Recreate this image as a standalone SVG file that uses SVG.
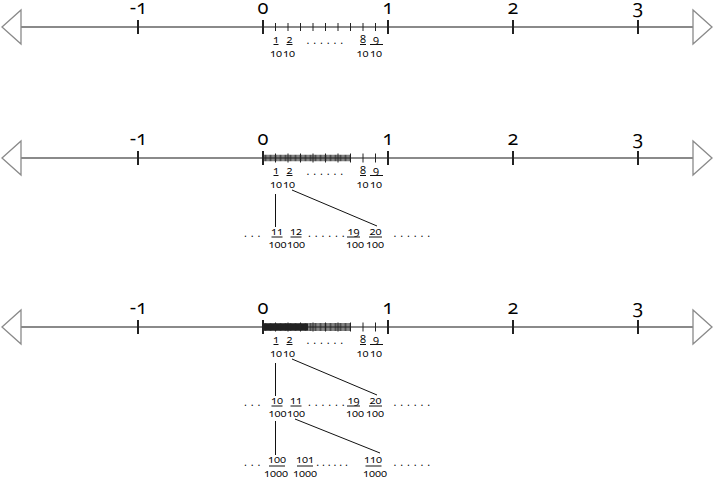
<svg xmlns="http://www.w3.org/2000/svg" width="714" height="479" viewBox="0 0 714 479">
<style>
text{font-family:"Open Sans","Noto Sans","DejaVu Sans",sans-serif;font-variant-numeric:oldstyle-nums;font-feature-settings:"onum" 1;fill:#000;text-anchor:middle}
.big{font-size:20px}
.fr{font-size:11px}
.dots{font-size:11px;letter-spacing:0.5px}
.axis{stroke:#8a8a8a;stroke-width:2;fill:none}
.arr{stroke:#8a8a8a;stroke-width:1.3;fill:#fff}
.maj{stroke:#222;stroke-width:2}
.ten{stroke:#222;stroke-width:1}
.hun{stroke:#222;stroke-width:7;stroke-dasharray:0.8 0.45}
.ul{stroke:#111;stroke-width:1}
.con{stroke:#111;stroke-width:1;fill:none}
</style>
<defs>
<g id="axisbase">
<line class="axis" x1="21" y1="0" x2="693" y2="0"/>
<polygon class="arr" points="2,0 21,-17 21,17"/>
<polygon class="arr" points="712,0 693,-17 693,17"/>
<path class="maj" d="M138 -7v14M263 -7v14M388 -7v14M513 -7v14M638 -7v14"/>
<text class="big" x="138.5" y="-13">-1</text>
<text class="big" x="263" y="-13">0</text>
<text class="big" x="388" y="-13">1</text>
<text class="big" x="513" y="-13">2</text>
<text class="big" x="638" y="-13">3</text>
</g>
<g id="tenthlabels">
<text class="fr" x="276" y="15.5">1</text>
<line class="ul" x1="273.5" y1="17.5" x2="278.5" y2="17.5"/>
<text class="fr" x="276" y="29.5">10</text>
<text class="fr" x="289.5" y="15.5">2</text>
<line class="ul" x1="286.5" y1="17.5" x2="292.5" y2="17.5"/>
<text class="fr" x="289" y="29.5">10</text>
<text class="dots" x="325" y="17">. . . . . .</text>
<text class="fr" x="363" y="15.5">8</text>
<line class="ul" x1="360" y1="17.5" x2="366" y2="17.5"/>
<text class="fr" x="362.5" y="29.5">10</text>
<text class="fr" x="376" y="15.5">9</text>
<line class="ul" x1="370" y1="17.5" x2="383" y2="17.5"/>
<text class="fr" x="376" y="29.5">10</text>
</g>
</defs>

<g id="line1" transform="translate(0,27)">
<use href="#axisbase"/>
<path class="ten" d="M275.5 -4v8M288 -4v8M300.5 -4v8M313 -4v8M325.5 -4v8M338 -4v8M350.5 -4v8M363 -4v8M375.5 -4v8"/>
<use href="#tenthlabels"/>
</g>

<g id="line2" transform="translate(0,158)">
<use href="#axisbase"/>
<line class="hun" x1="263.85" y1="0" x2="350" y2="0" style="stroke-width:6.5"/>
<path class="ten" d="M275.5 -4.5v9M288 -4.5v9M300.5 -4.5v9M313 -4.5v9M325.5 -4.5v9M338 -4.5v9M350.5 -4.5v9M363 -4.5v9M375.5 -4.5v9"/>
<path class="maj" d="M263 -7v14"/>
<use href="#tenthlabels"/>
</g>

<g id="row2a">
<text class="dots" x="252.5" y="237">. . .</text>
<text class="fr" x="277" y="234.5">11</text>
<line class="ul" x1="271.5" y1="237" x2="282.5" y2="237"/>
<text class="fr" x="277.5" y="248">100</text>
<text class="fr" x="296" y="234.5">12</text>
<line class="ul" x1="290.5" y1="237" x2="301.5" y2="237"/>
<text class="fr" x="296" y="248">100</text>
<text class="dots" x="326.5" y="237">. . . . . .</text>
<text class="fr" x="353.5" y="234.5">19</text>
<line class="ul" x1="347" y1="237" x2="360" y2="237"/>
<text class="fr" x="355" y="248">100</text>
<text class="fr" x="375.5" y="234.5">20</text>
<line class="ul" x1="369" y1="237" x2="382" y2="237"/>
<text class="fr" x="375" y="248">100</text>
<text class="dots" x="412" y="237">. . . . . .</text>
</g>

<g id="line3" transform="translate(0,327)">
<use href="#axisbase"/>
<rect x="263" y="-3.5" width="45" height="7" fill="#222"/>
<line class="hun" x1="263.85" y1="0" x2="350" y2="0" style="stroke-width:8"/>
<path class="ten" d="M275.5 -4.5v9M288 -4.5v9M300.5 -4.5v9M313 -4.5v9M325.5 -4.5v9M338 -4.5v9M350.5 -4.5v9M363 -4.5v9M375.5 -4.5v9"/>
<path class="maj" d="M263 -7v14"/>
<use href="#tenthlabels"/>
</g>

<g id="row3a">
<text class="dots" x="252.5" y="406">. . .</text>
<text class="fr" x="277" y="403.5">10</text>
<line class="ul" x1="271.5" y1="406" x2="282.5" y2="406"/>
<text class="fr" x="277.5" y="417">100</text>
<text class="fr" x="296" y="403.5">11</text>
<line class="ul" x1="290.5" y1="406" x2="301.5" y2="406"/>
<text class="fr" x="296" y="417">100</text>
<text class="dots" x="326.5" y="406">. . . . . .</text>
<text class="fr" x="353.5" y="403.5">19</text>
<line class="ul" x1="347" y1="406" x2="360" y2="406"/>
<text class="fr" x="355" y="417">100</text>
<text class="fr" x="375.5" y="403.5">20</text>
<line class="ul" x1="369" y1="406" x2="382" y2="406"/>
<text class="fr" x="375" y="417">100</text>
<text class="dots" x="412" y="406">. . . . . .</text>
</g>

<g id="row3b">
<text class="dots" x="252.5" y="466">. . .</text>
<text class="fr" x="277" y="463">100</text>
<line class="ul" x1="269" y1="466" x2="285" y2="466"/>
<text class="fr" x="276" y="477">1000</text>
<text class="fr" x="305" y="463">101</text>
<line class="ul" x1="297" y1="466" x2="313" y2="466"/>
<text class="fr" x="305" y="477">1000</text>
<text class="fr" x="332" y="466">. . . . . .</text>
<text class="fr" x="373" y="463">110</text>
<line class="ul" x1="365.5" y1="466" x2="381.5" y2="466"/>
<text class="fr" x="375" y="477">1000</text>
<text class="dots" x="412" y="466">. . . . . .</text>
</g>

<g id="connectors">
<line class="con" x1="275.5" y1="194" x2="275.5" y2="227"/>
<line class="con" x1="292" y1="190" x2="377" y2="226"/>
<line class="con" x1="275.5" y1="363" x2="275.5" y2="396"/>
<line class="con" x1="292" y1="359" x2="377" y2="395"/>
<line class="con" x1="275.5" y1="421" x2="275.5" y2="455"/>
<line class="con" x1="295" y1="419" x2="380" y2="453"/>
</g>
</svg>
